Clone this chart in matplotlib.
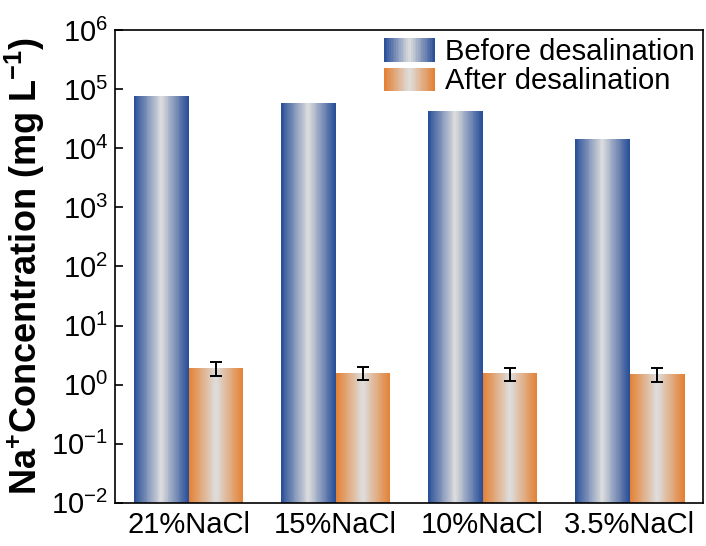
import numpy as np
import matplotlib
matplotlib.use("Agg")
import matplotlib.pyplot as plt
from matplotlib.colors import LinearSegmentedColormap
from matplotlib.legend_handler import HandlerBase
from matplotlib.patches import Rectangle
from matplotlib.ticker import NullLocator, FixedLocator

plt.rcParams['font.family'] = ['Liberation Sans', 'DejaVu Sans']
plt.rcParams['mathtext.fontset'] = 'custom'
plt.rcParams['mathtext.rm'] = 'Liberation Sans'
plt.rcParams['mathtext.bf'] = 'Liberation Sans:bold'
plt.rcParams['mathtext.default'] = 'regular'

# Data
categories = ['21%NaCl', '15%NaCl', '10%NaCl', '3.5%NaCl']
before = [76000, 58000, 43000, 14200]
after = [1.9, 1.6, 1.55, 1.5]
after_err = [0.5, 0.4, 0.4, 0.4]
series_labels = ['Before desalination', 'After desalination']

blue_edge = (0.15, 0.30, 0.59)
orange_edge = (0.89, 0.50, 0.19)
center = (0.87, 0.87, 0.87)


def gradient_cmap(edge):
    return LinearSegmentedColormap.from_list('g', [edge, center, edge])


cmaps = [gradient_cmap(blue_edge), gradient_cmap(orange_edge)]

fig = plt.figure(figsize=(7.06, 5.46), dpi=100)
ax = fig.add_axes([0.163, 0.079, 0.833, 0.866])

width = 0.373
x = np.arange(1, len(categories) + 1)
ybase = 1e-2
nseg = 60


def gradient_bar(ax, xc, height, cmap):
    xe = np.linspace(xc - width / 2, xc + width / 2, nseg + 1)
    ye = np.array([ybase, height])
    c = (np.arange(nseg) + 0.5) / nseg
    ax.pcolormesh(xe, ye, c[None, :], cmap=cmap, vmin=0, vmax=1,
                  shading='flat', zorder=2)


for xi, b, a in zip(x, before, after):
    gradient_bar(ax, xi - width / 2, b, cmaps[0])
    gradient_bar(ax, xi + width / 2, a, cmaps[1])

ax.errorbar(x + width / 2, after, yerr=after_err, fmt='none', ecolor='black',
            elinewidth=1.4, capsize=4.2, capthick=1.4, zorder=3)

ax.set_yscale('log')
ax.set_ylim(1e-2, 1e6)
ax.set_xlim(0.5, len(categories) + 0.5)
exps = list(range(-2, 7))
ax.yaxis.set_major_locator(FixedLocator([10.0 ** k for k in exps]))
ax.yaxis.set_minor_locator(NullLocator())
ax.set_yticklabels([r'$10^{%d}$' % k for k in exps])
ax.set_xticks(x)
ax.set_xticklabels(categories)

for s in ax.spines.values():
    s.set_linewidth(1.2)
ax.tick_params(axis='both', direction='in', length=6, width=1.2,
               labelsize=21, pad=6)
ax.tick_params(axis='y', pad=5)

ax.set_ylabel('Na$^{+}$Concentration (mg L$^{-1}$)', fontsize=26,
              fontweight='bold', labelpad=3)


class GradientHandler(HandlerBase):
    def __init__(self, cmap):
        super().__init__()
        self.cmap = cmap

    def create_artists(self, legend, orig_handle, xdescent, ydescent,
                       width, height, fontsize, trans):
        artists = []
        n = 30
        w = width / n
        for i in range(n):
            r = Rectangle((-xdescent + i * w, -ydescent), w * 1.05, height,
                          facecolor=self.cmap((i + 0.5) / n), edgecolor='none',
                          transform=trans)
            artists.append(r)
        return artists


h1 = Rectangle((0, 0), 1, 1)
h2 = Rectangle((0, 0), 1, 1)
ax.legend([h1, h2], series_labels,
          handler_map={h1: GradientHandler(cmaps[0]), h2: GradientHandler(cmaps[1])},
          loc='upper left', bbox_to_anchor=(384 / 706, 1 - 38 / 546),
          bbox_transform=fig.transFigure, frameon=False, fontsize=21,
          handlelength=1.75, handleheight=0.85, handletextpad=0.35,
          labelspacing=0.05, borderpad=0, borderaxespad=0)

fig.savefig('out.png', dpi=100)
